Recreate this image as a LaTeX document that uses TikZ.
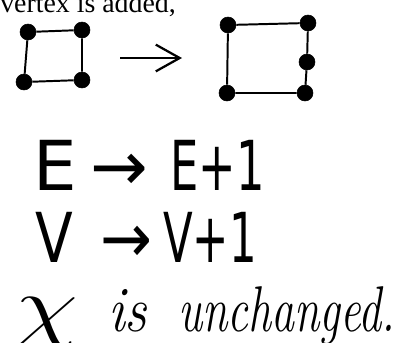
\RequirePackage{fix-cm}
\documentclass[tikz,border=0pt]{standalone}
\usepackage{fontspec}
\usepackage{graphicx}
\usetikzlibrary{arrows.meta}
\newfontfamily\printfont{Liberation Serif}
\newfontfamily\handfont{DejaVu Sans}

\begin{document}
\begin{tikzpicture}[x=0.025cm,y=-0.025cm,
  vtx/.style={draw,fill=black,circle,minimum size=0.4cm,inner sep=0pt},
  edge/.style={line width=1.4pt},
  txt/.style={inner sep=0pt,anchor=base west},
  print/.style={txt,font=\printfont\fontsize{19.8}{22}\selectfont},
  hand/.style={txt,font=\handfont\fontsize{49}{52}\selectfont},
  cursive/.style={txt,font=\itshape\fontsize{46}{50}\selectfont}]
  \useasboundingbox (0,0) rectangle (396,343);
  \clip (0,0) rectangle (396,343);

  \node[print] (head) at (0,12.5) {vertex is added,};

  % square before
  \node[vtx] (a1) at (28,32) {};
  \node[vtx] (b1) at (82,30) {};
  \node[vtx] (c1) at (24,82) {};
  \node[vtx] (d1) at (82,80) {};
  \draw[edge] (a1) -- (b1) -- (d1) -- (c1) -- (a1);

  \coordinate (arrS) at (120,58);
  \coordinate (arrE) at (182,58);
  \draw[line width=1.4pt,-{Straight Barb[length=17pt,width=19pt,line width=1.6pt]}] (arrS) -- (arrE);

  % square after, one edge split
  \node[vtx] (a2) at (228,25) {};
  \node[vtx] (b2) at (308,23) {};
  \node[vtx] (m2) at (307,62) {};
  \node[vtx] (d2) at (305,93) {};
  \node[vtx] (c2) at (227,93) {};
  \draw[edge] (a2) -- (b2) -- (m2) -- (d2) -- (c2) -- (a2);

  \node[hand] (e0) at (33,190) {E};
  \node[hand] (earr) at (90,190) {→};
  \node[hand] (e1) at (170,190) {\scalebox{0.65}[1]{E+1}};

  \node[hand] (v0) at (35,262) {\scalebox{0.8}[1]{V}};
  \node[hand] (varr) at (100,262) {\scalebox{0.9}[1]{→}};
  \node[hand] (v1) at (163,262) {\scalebox{0.63}[1]{V+1}};

  \node[txt,font=\fontsize{56}{60}\selectfont] (chi) at (15,331) {\scalebox{1.3}[1]{$\chi$}};
  \node[cursive] (is) at (108,331) {\scalebox{0.86}[1]{is}};
  \node[cursive] (unch) at (178,331) {\scalebox{0.71}[1]{unchanged.}};
\end{tikzpicture}
\end{document}
